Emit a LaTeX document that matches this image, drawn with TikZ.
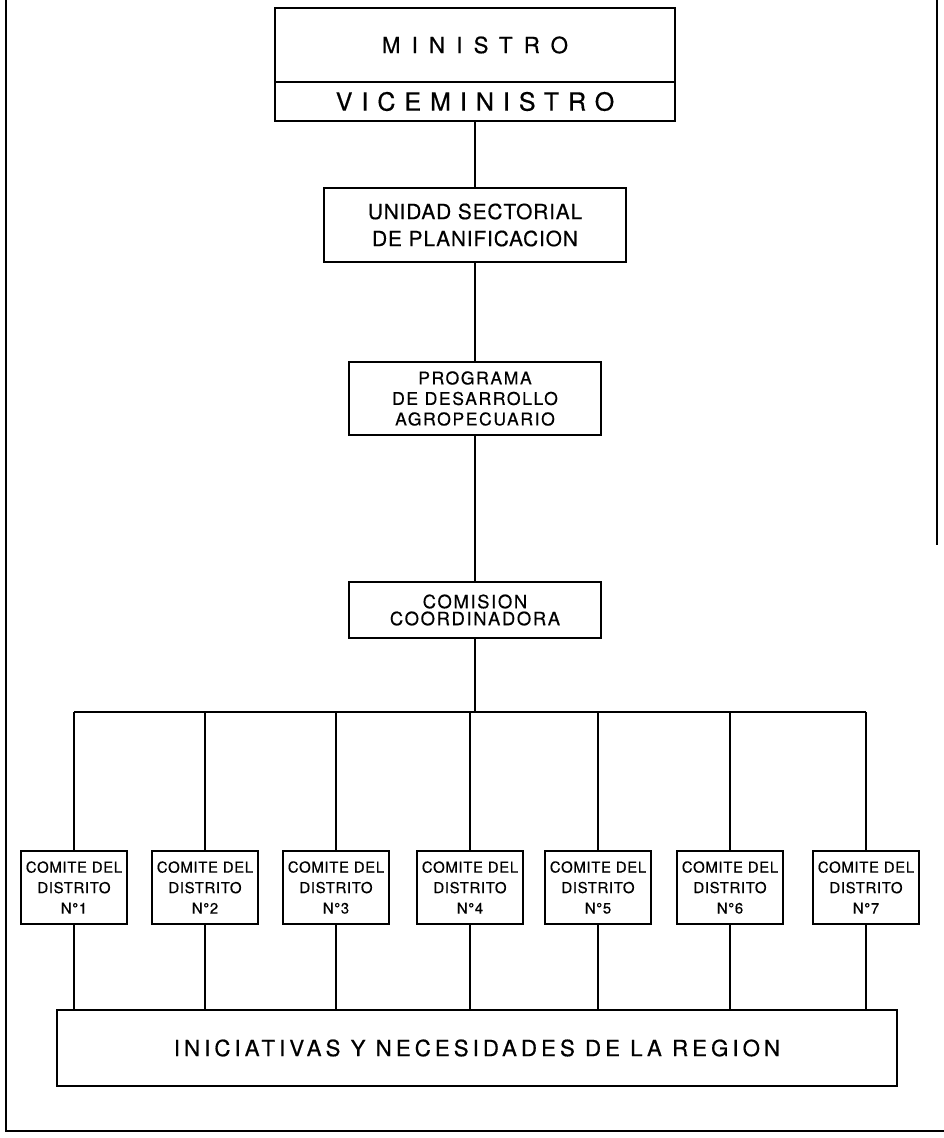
\documentclass[tikz,border=0pt]{standalone}
\usepackage{fontspec}
\setmainfont{TeX Gyre Heros}
\usetikzlibrary{positioning}
\newfontfamily\MinFont[LetterSpace=50,FakeBold=0.6]{TeX Gyre Heros}
\newfontfamily\ViceFont[LetterSpace=36,FakeBold=0.6]{TeX Gyre Heros}
\newfontfamily\RegionFont[LetterSpace=18,FakeBold=0.6]{TeX Gyre Heros}
\newfontfamily\BoxFont[LetterSpace=4,FakeBold=0.4]{TeX Gyre Heros}
\newfontfamily\MidFont[LetterSpace=9,FakeBold=0.4]{TeX Gyre Heros}

\begin{document}
\begin{tikzpicture}[x=1pt,y=-1pt,
  box/.style={draw,line width=1.6pt,inner sep=0pt,outer sep=0pt,align=center},
  comite/.style={box,minimum width=106pt,minimum height=73pt,
    font=\BoxFont\fontsize{15}{20.5}\selectfont},
  conn/.style={line width=1.2pt},
  frame/.style={line width=2.2pt}]
\useasboundingbox (0,0) rectangle (944,1138);

\draw[frame] (6,0) -- (6,1131) -- (944,1131);
\draw[frame] (937,0) -- (937,545);

\node[box,minimum width=400pt,minimum height=74pt,
  font=\MinFont\fontsize{22.3}{26}\selectfont] (ministro) at (475,45) {MINISTRO};
\node[box,minimum width=400pt,minimum height=39pt,below=0pt of ministro,
  font=\ViceFont\fontsize{25}{28}\selectfont] (vice) {VICEMINISTRO};

\node[box,minimum width=302pt,minimum height=74pt,
  font=\BoxFont\fontsize{20.9}{27}\selectfont] (unidad) at (475,225)
  {UNIDAD SECTORIAL\\DE PLANIFICACION};
\node[box,minimum width=252pt,minimum height=73pt,
  font=\MidFont\fontsize{17.6}{20.5}\selectfont] (programa) at (475,398.5)
  {PROGRAMA\\DE DESARROLLO\\AGROPECUARIO};
\node[box,minimum width=252pt,minimum height=56pt,
  font=\MidFont\fontsize{18.4}{17}\selectfont] (comision) at (475,610)
  {COMISION\\COORDINADORA};

\coordinate (bus) at (475,712);

\foreach \x [count=\i] in {74,205,336,470,598,730,866}
  \node[comite] (c\i) at (\x,887.5) {COMITE DEL\\DISTRITO\\N°\i};

\node[box,minimum width=840pt,minimum height=76pt,
  font=\RegionFont\fontsize{22.3}{26}\selectfont] (region) at (477,1048)
  {INICIATIVAS Y NECESIDADES DE LA REGION};

\draw[conn] (vice) -- (unidad);
\draw[conn] (unidad) -- (programa);
\draw[conn] (programa) -- (comision);
\draw[conn] (comision) -- (bus);
\draw[conn] (c1.north |- bus) -- (c7.north |- bus);
\foreach \i in {1,...,7}{
  \draw[conn] (c\i.north |- bus) -- (c\i.north);
  \draw[conn] (c\i.south) -- (c\i.south |- region.north);
}

\end{tikzpicture}
\end{document}
